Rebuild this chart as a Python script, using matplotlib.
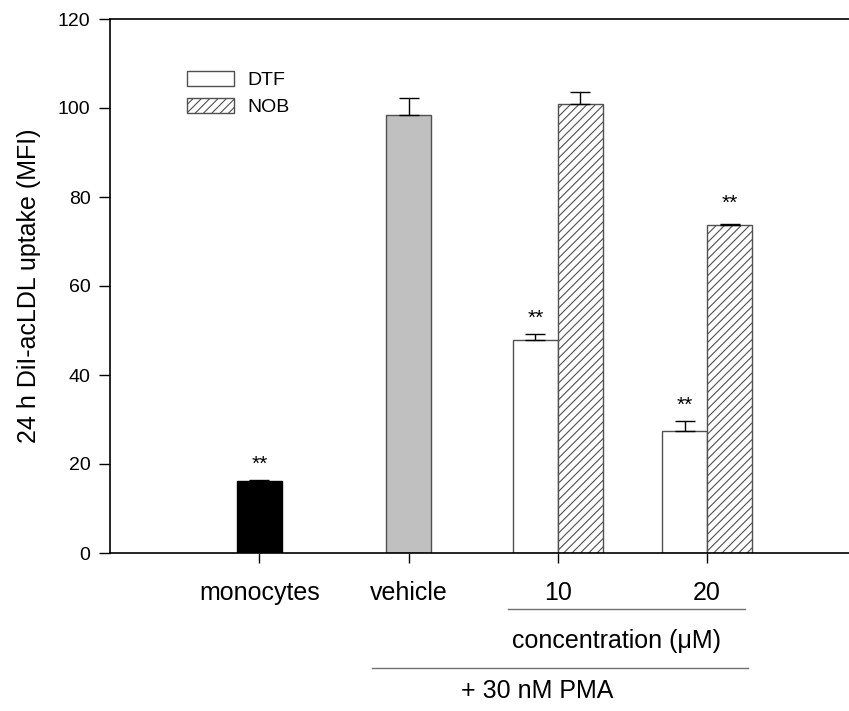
import matplotlib
matplotlib.use("Agg")
import matplotlib.pyplot as plt
import matplotlib.transforms as mtransforms

plt.rcParams['font.family'] = ['Liberation Sans', 'DejaVu Sans']
plt.rcParams['hatch.linewidth'] = 0.8

# data
categories = ['monocytes', 'vehicle', '10', '20']
mono_val, mono_err = 16.1, 0.3
vehicle_val, vehicle_err = 98.5, 3.8
dtf_vals = [47.8, 27.4]
dtf_errs = [1.4, 2.2]
nob_vals = [101.0, 73.8]
nob_errs = [2.7, 0.2]
star_dtf = [True, True]
star_nob = [False, True]

w = 0.30
fs_big = 18
fs_small = 14
edge = '#505050'

fig = plt.figure(figsize=(8.49, 7.11), dpi=100)
ax = fig.add_axes([110/849, 1 - 553/711, 1 - 110/849, (553 - 19)/711])

xpos = [1, 2, 3, 4]

# monocytes / vehicle
ax.bar(xpos[0], mono_val, w, color='black', edgecolor='black', linewidth=1, zorder=2)
ax.errorbar(xpos[0], mono_val, yerr=[[0], [mono_err]], fmt='none', ecolor='black',
            elinewidth=1, capsize=7.5, capthick=1, zorder=3)
ax.bar(xpos[1], vehicle_val, w, color='#c0c0c0', edgecolor=edge, linewidth=1, zorder=2)
ax.errorbar(xpos[1], vehicle_val, yerr=[[0], [vehicle_err]], fmt='none', ecolor='black',
            elinewidth=1, capsize=7.5, capthick=1, zorder=3)

gx = xpos[2:]
dtf_x = [x - w/2 for x in gx]
nob_x = [x + w/2 for x in gx]
ax.bar(dtf_x, dtf_vals, w, color='white', edgecolor=edge, linewidth=1, zorder=2, label='DTF')
ax.bar(nob_x, nob_vals, w, color='white', edgecolor=edge, linewidth=1, hatch='////',
       zorder=2, label='NOB')
ax.errorbar(dtf_x, dtf_vals, yerr=[[0]*2, dtf_errs], fmt='none', ecolor='black',
            elinewidth=1, capsize=7.5, capthick=1, zorder=3)
ax.errorbar(nob_x, nob_vals, yerr=[[0]*2, nob_errs], fmt='none', ecolor='black',
            elinewidth=1, capsize=7.5, capthick=1, zorder=3)

# significance stars
star_kw = dict(ha='center', va='baseline', fontsize=15)
ax.text(xpos[0], mono_val + mono_err + 2.4, '**', **star_kw)
for x, v, e, s in zip(dtf_x, dtf_vals, dtf_errs, star_dtf):
    if s:
        ax.text(x, v + e + 2.4, '**', **star_kw)
for x, v, e, s in zip(nob_x, nob_vals, nob_errs, star_nob):
    if s:
        ax.text(x, v + e + 3.4, '**', **star_kw)

ax.set_xlim(0, 4.95)
ax.set_ylim(0, 120)
ax.set_yticks([0, 20, 40, 60, 80, 100, 120])
ax.set_xticks(xpos)
ax.set_xticklabels(categories, fontsize=fs_big)
ax.tick_params(axis='y', labelsize=fs_small, length=8, width=1, direction='out', pad=6)
ax.tick_params(axis='x', length=7, width=1, direction='out', pad=13)
ax.spines['right'].set_visible(False)
for s in ['left', 'bottom', 'top']:
    ax.spines[s].set_linewidth(1.2)
ax.set_ylabel('24 h DiI-acLDL uptake (MFI)', fontsize=fs_big, labelpad=12)

leg = ax.legend(loc='upper left', bbox_to_anchor=((187 - 110) / 739, 0.902), frameon=False,
                fontsize=fs_small, handlelength=2.42, handleheight=0.77, handletextpad=0.67,
                labelspacing=0.45, borderpad=0, borderaxespad=0)

# group annotations below the axis
trans = mtransforms.blended_transform_factory(ax.transData, ax.transAxes)
ax.plot([2.664, 4.255], [-0.105, -0.105], color='#707070', lw=1, transform=trans, clip_on=False)
ax.text(3.396, -0.165, 'concentration (\u03bcM)', ha='center', va='center', fontsize=fs_big,
        transform=trans)
ax.plot([1.758, 4.275], [-0.215, -0.215], color='#707070', lw=1, transform=trans, clip_on=False)
ax.text(2.86, -0.258, '+ 30 nM PMA', ha='center', va='center', fontsize=fs_big, transform=trans)

fig.savefig('out.png', dpi=100)
